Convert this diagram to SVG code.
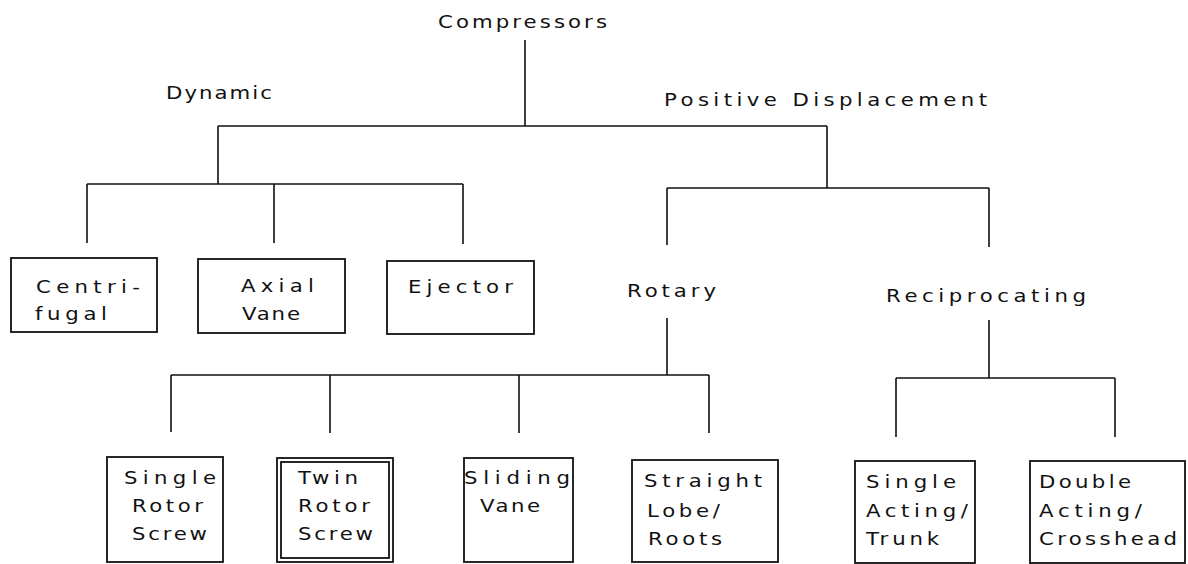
<svg xmlns="http://www.w3.org/2000/svg" width="1188" height="564" viewBox="0 0 1188 564">
<style>
.t{font-family:"DejaVu Sans","Liberation Sans",sans-serif;font-size:17px;fill:#111}
.ln{stroke:#111;stroke-width:1.6;fill:none}
.bx{stroke:#111;stroke-width:1.8;fill:none}
</style>
<rect width="1188" height="564" fill="#fff"/>
<g id="connectors" class="ln">
<path d="M525 40V126M218 126H827M218 126V184M87 184H463M87 184V243M274 184V243M463 184V244"/>
<path d="M827 126V188M667 188H989M667 188V245M989 188V247"/>
<path d="M667 318V375M171 375H709M171 375V432M330 375V433M519 375V433M709 375V433"/>
<path d="M989 320V378M896 378H1115M896 378V437M1115 378V437"/>
</g>
<g id="compressors"><text class="t" transform="scale(1.25,1)" x="350.4" y="28" textLength="135.2" lengthAdjust="spacing">Compressors</text></g>
<g id="dynamic"><text class="t" transform="scale(1.25,1)" x="132.8" y="99" textLength="84.8" lengthAdjust="spacing">Dynamic</text></g>
<g id="positive-displacement"><text class="t" transform="scale(1.25,1)" x="531.2" y="106" textLength="258.4" lengthAdjust="spacing">Positive Displacement</text></g>
<g id="centrifugal"><rect class="bx" x="11" y="258" width="146" height="74"/>
<text class="t" transform="scale(1.25,1)" x="28.8" y="293" textLength="83.2" lengthAdjust="spacing">Centri-</text>
<text class="t" transform="scale(1.25,1)" x="28" y="320" textLength="57.6" lengthAdjust="spacing">fugal</text></g>
<g id="axial-vane"><rect class="bx" x="198" y="259" width="147" height="74"/>
<text class="t" transform="scale(1.25,1)" x="192.8" y="292" textLength="58.4" lengthAdjust="spacing">Axial</text>
<text class="t" transform="scale(1.25,1)" x="193.6" y="320" textLength="46.4" lengthAdjust="spacing">Vane</text></g>
<g id="ejector"><rect class="bx" x="387" y="261" width="147" height="73"/>
<text class="t" transform="scale(1.25,1)" x="326.4" y="293" textLength="84" lengthAdjust="spacing">Ejector</text></g>
<g id="rotary"><text class="t" transform="scale(1.25,1)" x="501.6" y="297" textLength="71.2" lengthAdjust="spacing">Rotary</text></g>
<g id="reciprocating"><text class="t" transform="scale(1.25,1)" x="708.8" y="302" textLength="160" lengthAdjust="spacing">Reciprocating</text></g>
<g id="single-rotor-screw"><rect class="bx" x="107" y="457" width="116" height="105"/>
<text class="t" transform="scale(1.25,1)" x="99.2" y="484" textLength="73.6" lengthAdjust="spacing">Single</text>
<text class="t" transform="scale(1.25,1)" x="105.6" y="512" textLength="56.8" lengthAdjust="spacing">Rotor</text>
<text class="t" transform="scale(1.25,1)" x="105.6" y="540" textLength="60" lengthAdjust="spacing">Screw</text></g>
<g id="twin-rotor-screw"><rect class="bx" x="277" y="458" width="116" height="104"/>
<rect class="bx" x="281" y="462" width="108" height="96" stroke-width="1.3"/>
<text class="t" transform="scale(1.25,1)" x="238.4" y="484" textLength="48" lengthAdjust="spacing">Twin</text>
<text class="t" transform="scale(1.25,1)" x="238.4" y="512" textLength="57.6" lengthAdjust="spacing">Rotor</text>
<text class="t" transform="scale(1.25,1)" x="238.4" y="540" textLength="60" lengthAdjust="spacing">Screw</text></g>
<g id="sliding-vane"><rect class="bx" x="464" y="458" width="109" height="104"/>
<text class="t" transform="scale(1.25,1)" x="371.2" y="484" textLength="84.8" lengthAdjust="spacing">Sliding</text>
<text class="t" transform="scale(1.25,1)" x="384" y="512" textLength="48" lengthAdjust="spacing">Vane</text></g>
<g id="straight-lobe-roots"><rect class="bx" x="632" y="460" width="146" height="102"/>
<text class="t" transform="scale(1.25,1)" x="515.2" y="487" textLength="94.4" lengthAdjust="spacing">Straight</text>
<text class="t" transform="scale(1.25,1)" x="517.6" y="517" textLength="58.4" lengthAdjust="spacing">Lobe/</text>
<text class="t" transform="scale(1.25,1)" x="518.4" y="545" textLength="59.2" lengthAdjust="spacing">Roots</text></g>
<g id="single-acting-trunk"><rect class="bx" x="855" y="461" width="120" height="102"/>
<text class="t" transform="scale(1.25,1)" x="692.8" y="488" textLength="72" lengthAdjust="spacing">Single</text>
<text class="t" transform="scale(1.25,1)" x="692.8" y="517" textLength="81.6" lengthAdjust="spacing">Acting/</text>
<text class="t" transform="scale(1.25,1)" x="692.8" y="545" textLength="58.4" lengthAdjust="spacing">Trunk</text></g>
<g id="double-acting-crosshead"><rect class="bx" x="1030" y="461" width="155" height="102"/>
<text class="t" transform="scale(1.25,1)" x="831.2" y="488" textLength="73.6" lengthAdjust="spacing">Double</text>
<text class="t" transform="scale(1.25,1)" x="831.2" y="517" textLength="82.4" lengthAdjust="spacing">Acting/</text>
<text class="t" transform="scale(1.25,1)" x="831.2" y="545" textLength="110.4" lengthAdjust="spacing">Crosshead</text></g>
</svg>
